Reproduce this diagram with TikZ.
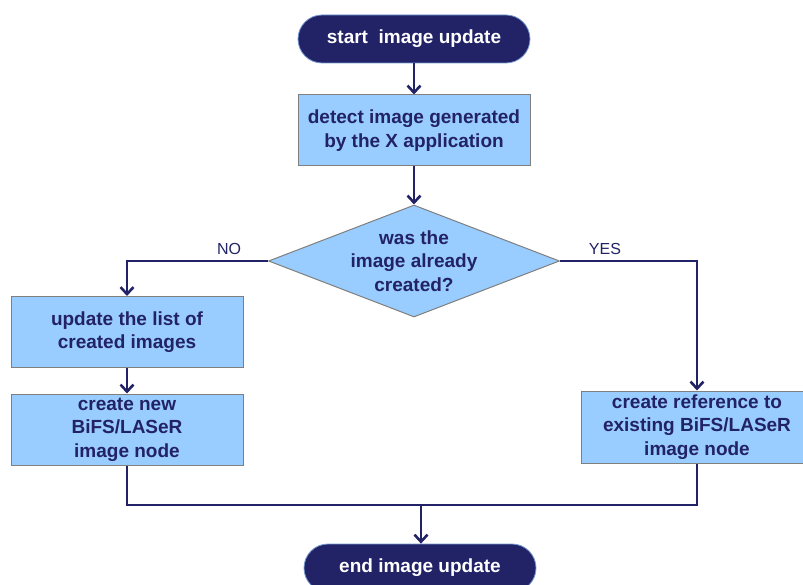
\documentclass[tikz,border=0pt]{standalone}
\usepackage{fontspec}
\setmainfont{Liberation Sans}
\usetikzlibrary{shapes.geometric,arrows.meta}
\definecolor{navy}{HTML}{222266}
\definecolor{lblue}{HTML}{99CCFF}
\definecolor{bordergray}{HTML}{7F7F7F}
\tikzset{
  term/.style={draw=lblue!70!navy, line width=0.8pt, fill=navy, rounded corners=24pt,
    minimum width=232pt, minimum height=48pt, text=white,
    font=\bfseries\fontsize{19}{23.5}\selectfont, inner sep=0pt},
  proc/.style={draw=bordergray, line width=1pt, fill=lblue, minimum width=232pt,
    minimum height=71pt, text=navy, align=center,
    font=\bfseries\fontsize{19}{23.5}\selectfont, inner sep=0pt},
  decis/.style={diamond, aspect=2.6, draw=bordergray, line width=1pt, fill=lblue,
    minimum width=291pt, minimum height=112pt, text=navy, align=center,
    font=\bfseries\fontsize{19}{23.5}\selectfont, inner sep=0pt},
  conn/.style={draw=navy, line width=2.6pt},
  arr/.style={conn, -{Straight Barb[length=7pt,width=13pt,line width=2.6pt]}},
  lbl/.style={text=navy, font=\fontsize{16}{18}\selectfont, inner sep=0pt}
}
\begin{document}
\begin{tikzpicture}[x=1pt,y=-1pt]
\useasboundingbox (0,0) rectangle (803,585);
\node[term] (start) at (414,39) {start\ \ image update};
\node[proc] (detect) at (414,130.5) {detect image generated\\by the X application};
\node[decis] (dec) at (414,261) {was the\\image already\\created?};
\node[proc] (upd) at (127,332) {update the list of\\created images};
\node[proc] (new) at (127,429.5) {create new\\BiFS/LASeR\\image node};
\node[proc, minimum height=72pt] (ref) at (697,427) {create reference to\\existing BiFS/LASeR\\image node};
\node[term] (end) at (420,568) {end image update};
\coordinate (nocorner) at (127,261);
\coordinate (yescorner) at (697,261);
\coordinate (mleft) at (127,505);
\coordinate (mright) at (697,505);
\coordinate (mmid) at (421,505);
\node[lbl] (no) at (229,249) {NO};
\node[lbl] (yes) at (605,249) {YES};
\draw[arr] (start.south) -- (detect.north);
\draw[arr] (detect.south) -- (dec.north);
\draw[arr] (dec.west) -- (nocorner) -- (upd.north);
\draw[arr] (dec.east) -- (yescorner) -- (ref.north);
\draw[arr] (upd.south) -- (new.north);
\draw[conn] (new.south) -- (mleft) -- (mright) -- (ref.south);
\draw[arr] (mmid) -- (end.north -| mmid);
\end{tikzpicture}
\end{document}
